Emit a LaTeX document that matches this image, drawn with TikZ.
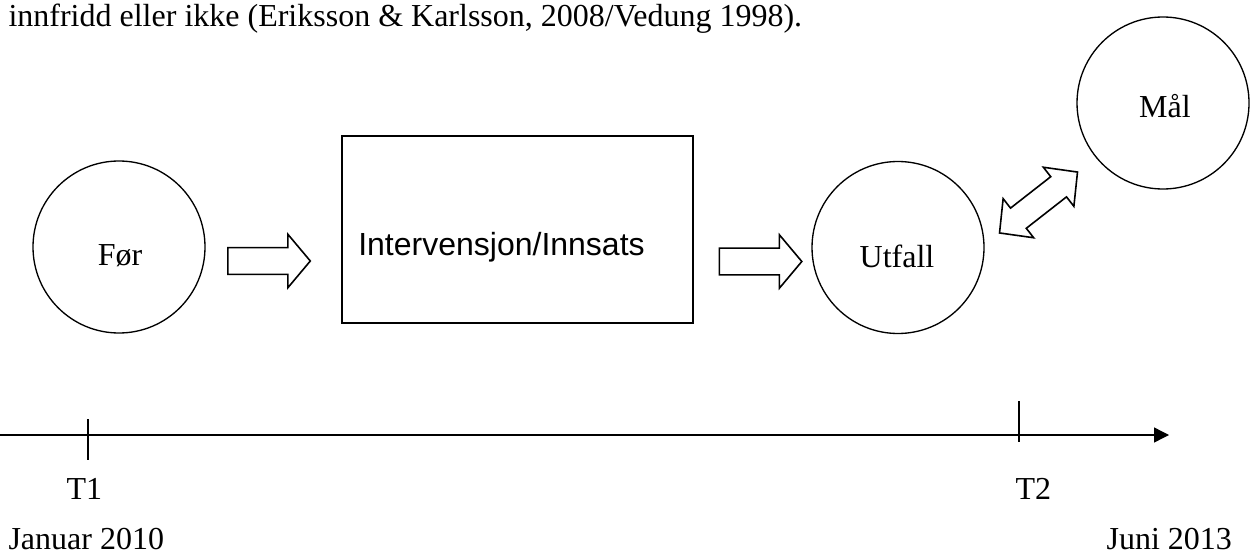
\documentclass[tikz,border=0pt]{standalone}
\usepackage{fontspec}
\setmainfont{Liberation Serif}
\newfontfamily\arialfont{Liberation Sans}
\usetikzlibrary{shapes.geometric,shapes.arrows,arrows.meta}

\begin{document}
\begin{tikzpicture}[x=0.375pt,y=-0.375pt,
  every node/.style={font=\fontsize{12pt}{14pt}\selectfont,inner sep=0pt},
  ring/.style={draw,circle,line width=0.5pt,minimum size=64.5pt},
  fatarrow/.style={draw,single arrow,line width=0.6pt,text height=9.4pt,text depth=0pt,minimum height=30.9pt,single arrow head extend=5pt,single arrow tip angle=100},
  bothways/.style={draw,double arrow,line width=0.6pt,text height=9pt,text depth=0pt,minimum height=37.1pt,double arrow head extend=4.5pt,double arrow tip angle=92}]
\useasboundingbox (0,0) rectangle (1251,556);

\node (intro) at (8,27)[anchor=base west] {innfridd eller ikke (Eriksson \& Karlsson, 2008/Vedung 1998).};

\node (foer) at (119,247)[ring] {};
\node (foertxt) at (120,265)[anchor=base] {Før};
\node (pil1) at (263.5,261)[fatarrow] {};
\node (tiltak) at (517.5,229.5)[draw,line width=0.6pt,minimum width=131.6pt,minimum height=70.1pt] {};
\node (tiltaktxt) at (501.5,255)[anchor=base,font=\arialfont\fontsize{12pt}{14pt}\selectfont] {Intervensjon/Innsats};
\node (pil2) at (755,261.5)[fatarrow] {};
\node (utfall) at (898,247.5)[ring] {};
\node (utfalltxt) at (897,267)[anchor=base] {Utfall};
\node (maal) at (1163,103)[ring] {};
\node (maaltxt) at (1165,118)[anchor=base] {Mål};
\node (pil3) at (1038.5,202.5)[bothways,rotate=38] {};

\coordinate (tstart) at (0,435);
\coordinate (tend) at (1169,435);
\draw [-{Triangle[length=5.6pt,width=5.6pt]},line width=0.5pt] (tstart) -- (tend);
\draw [line width=0.5pt] (88,419) -- (88,460);
\draw [line width=0.5pt] (1019,401) -- (1019,442);

\node (t1) at (66,499)[anchor=base west] {T1};
\node (t2) at (1015,499)[anchor=base west] {T2};
\node (start) at (8,549)[anchor=base west] {Januar 2010};
\node (slutt) at (1106,549)[anchor=base west] {Juni 2013};
\end{tikzpicture}
\end{document}
